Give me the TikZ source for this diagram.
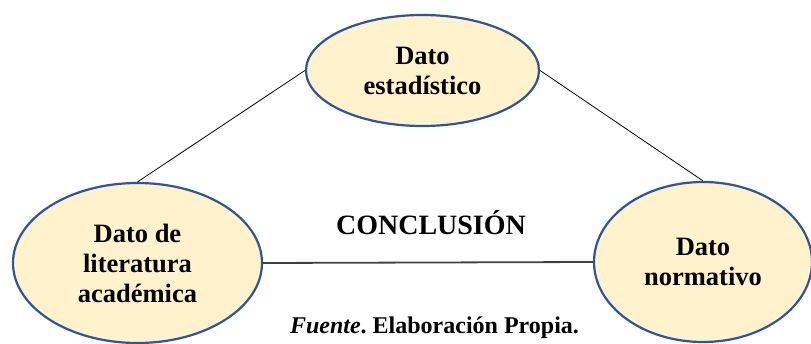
\documentclass[tikz,border=0pt]{standalone}
\usepackage{fontspec}
\setmainfont{Liberation Serif}
\usepackage{xcolor}
\usepackage{tikz}
\usetikzlibrary{shapes.geometric}
\definecolor{relleno}{HTML}{FFF2CC}
\definecolor{borde}{HTML}{2F5597}
\frenchspacing

\begin{document}
\begin{tikzpicture}[x=1pt,y=1pt,
 dato/.style={ellipse, draw=borde, fill=relleno, line width=2.2pt, inner sep=0pt, align=center, font=\fontsize{26.5}{30}\selectfont\bfseries},
 nota/.style={inner sep=0pt, anchor=base}]
\useasboundingbox (0,0) rectangle (811,343);
\node[dato, minimum width=233, minimum height=111] (est) at (422.5,272.5) {Dato\\estadístico};
\node[dato, minimum width=249, minimum height=160] (lit) at (137.5,80) {Dato de\\literatura\\académica};
\node[dato, minimum width=218, minimum height=160] (norm) at (703,81) {Dato\\normativo};
\draw[line width=0.8pt] (est.west) -- (lit.north);
\draw[line width=0.8pt] (est.east) -- (norm.north);
\draw[line width=1.8pt, draw=black!75] (lit.east) -- (norm.west);
\node[nota, font=\fontsize{28}{32}\selectfont\bfseries] (concl) at (431,108) {CONCLUSIÓN};
\node[nota, font=\fontsize{24}{28}\selectfont\bfseries] (fuente) at (434.5,10) {\textit{Fuente}. Elaboración Propia.};
\end{tikzpicture}
\end{document}
